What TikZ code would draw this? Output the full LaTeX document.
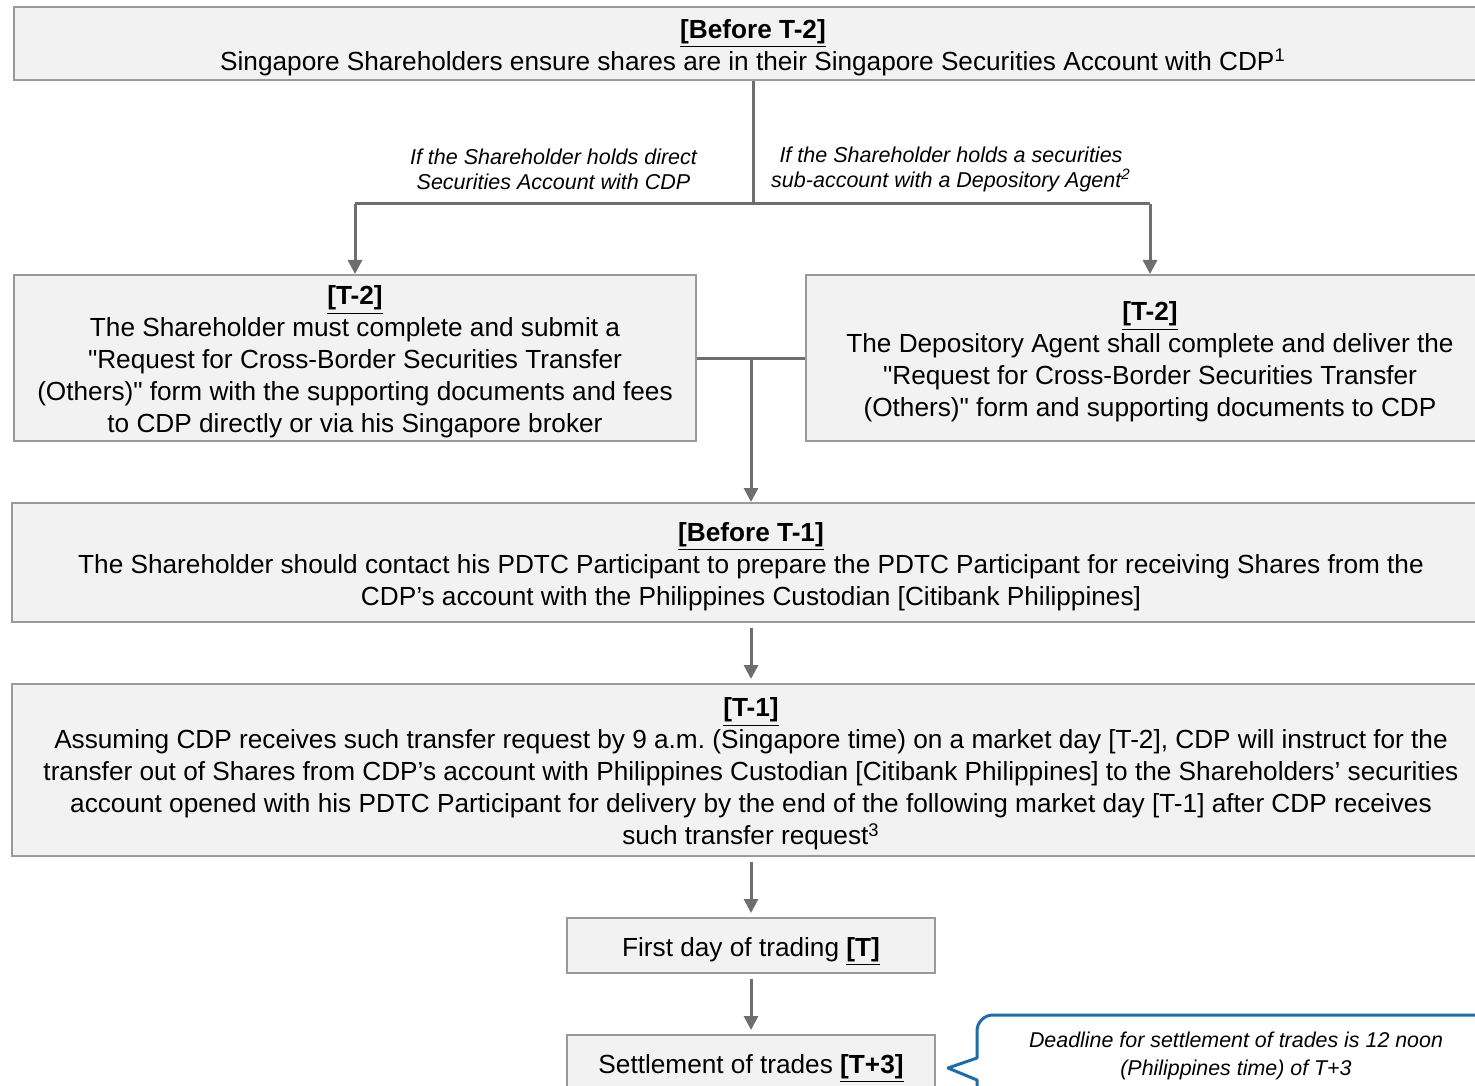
\documentclass[tikz,border=0pt]{standalone}
\usepackage{fontspec}
\setmainfont{Liberation Sans}[Ligatures=TeXOff]
\usetikzlibrary{arrows.meta}
\frenchspacing
\definecolor{boxfill}{HTML}{F2F2F2}
\definecolor{boxline}{HTML}{9A9A9A}
\definecolor{arrowc}{HTML}{6E6E6E}
\definecolor{callblue}{HTML}{1F6CA6}
\tikzset{
  stepbox/.style={draw=boxline, line width=1pt, fill=boxfill, inner sep=0pt},
  steptext/.style={inner sep=0pt, align=center, font=\fontsize{13.1}{16}\selectfont, text=black},
  conn/.style={draw=arrowc, line width=1.5pt},
  arr/.style={conn, -{Triangle[length=7pt,width=7pt]}},
  lbl/.style={font=\fontsize{10.75}{12.5}\selectfont\itshape, align=center, inner sep=0pt},
}
\newcommand{\ttlx}[1]{\underline{\textbf{#1}}}
\begin{document}
\begin{tikzpicture}[x=0.5pt,y=-0.5pt]
\useasboundingbox (0,0) rectangle (1475,1085);
\clip (0,0) rectangle (1475,1085);
\fill[white] (0,0) rectangle (1475,1085);

\node[stepbox, minimum width=739pt, minimum height=36.5pt] (top) at (753,43.5) {};
\node[steptext] (topT) at ([yshift=-2pt]top.center)
  {\ttlx{[Before T-2]}\\Singapore Shareholders ensure shares are in their Singapore Securities Account with CDP\textsuperscript{1}};

\node[stepbox, minimum width=341pt, minimum height=83pt] (left) at (355,358) {};
\node[steptext] (leftT) at ([yshift=-2pt]left.center)
  {\ttlx{[T-2]}\\The Shareholder must complete and submit a\\"Request for Cross-Border Securities Transfer\\(Others)" form with the supporting documents and fees\\to CDP directly or via his Singapore broker};

\node[stepbox, minimum width=344pt, minimum height=83pt] (right) at (1150,358) {};
\node[steptext] (rightT) at ([yshift=-2pt]right.center)
  {\ttlx{[T-2]}\\The Depository Agent shall complete and deliver the\\"Request for Cross-Border Securities Transfer\\(Others)" form and supporting documents to CDP};

\node[stepbox, minimum width=739pt, minimum height=59.5pt] (b1) at (751,562.5) {};
\node[steptext] (b1T) at ([yshift=-2pt]b1.center)
  {\ttlx{[Before T-1]}\\The Shareholder should contact his PDTC Participant to prepare the PDTC Participant for receiving Shares from the\\CDP’s account with the Philippines Custodian [Citibank Philippines]};

\node[stepbox, minimum width=739pt, minimum height=86pt] (t1) at (751,770) {};
\node[steptext] (t1T) at ([yshift=-2pt]t1.center)
  {\ttlx{[T-1]}\\Assuming CDP receives such transfer request by 9 a.m. (Singapore time) on a market day [T-2], CDP will instruct for the\\transfer out of Shares from CDP’s account with Philippines Custodian [Citibank Philippines] to the Shareholders’ securities\\account opened with his PDTC Participant for delivery by the end of the following market day [T-1] after CDP receives\\such transfer request\textsuperscript{3}};

\node[stepbox, minimum width=184pt, minimum height=27.5pt] (t0) at (751,945.5) {};
\node[steptext] (t0T) at ([yshift=-3pt]t0.center) {First day of trading \ttlx{[T]}};

\node[stepbox, minimum width=184pt, minimum height=27.5pt] (t3) at (751,1062.5) {};
\node[steptext] (t3T) at ([yshift=-3pt]t3.center) {Settlement of trades \ttlx{[T+3]}};

% branch from top box
\coordinate (split) at (753,204);
\coordinate (splitL) at (355,204);
\coordinate (splitR) at (1150,204);
\draw[conn] (top.south -| split) -- (split);
\draw[conn] (splitL) -- (splitR);
\draw[arr] (splitL) -- (left.north);
\draw[arr] (splitR) -- (right.north);

\node[lbl] (lblL) at (553.5,169.5) {If the Shareholder holds direct\\Securities Account with CDP};
\node[lbl] (lblR) at (951,169.5) {If the Shareholder holds a securities\\sub-account with a Depository Agent\textsuperscript{2}};

% merge
\coordinate (merge) at (751,358);
\draw[conn] (left.east) -- (right.west);
\draw[arr] (merge) -- (b1.north);

\draw[arr, shorten <=2.5pt, shorten >=2pt] (b1.south) -- (t1.north);
\draw[arr, shorten <=2.5pt, shorten >=2pt] (t1.south) -- (t0.north);
\draw[arr, shorten <=2.5pt, shorten >=2pt] (t0.south) -- (t3.north);

% callout
\draw[callblue, line width=1.5pt, fill=white, line join=round]
  (977,1130) -- (977,1080) -- (948,1068) -- (977,1058)
  [rounded corners=8pt] -- (977,1015) -- (1530,1015) -- (1530,1130);
\node[lbl, font=\fontsize{10.7}{14}\selectfont\itshape] (note) at (1236,1056)
  {Deadline for settlement of trades is 12 noon\\(Philippines time) of T+3};
\end{tikzpicture}
\end{document}
